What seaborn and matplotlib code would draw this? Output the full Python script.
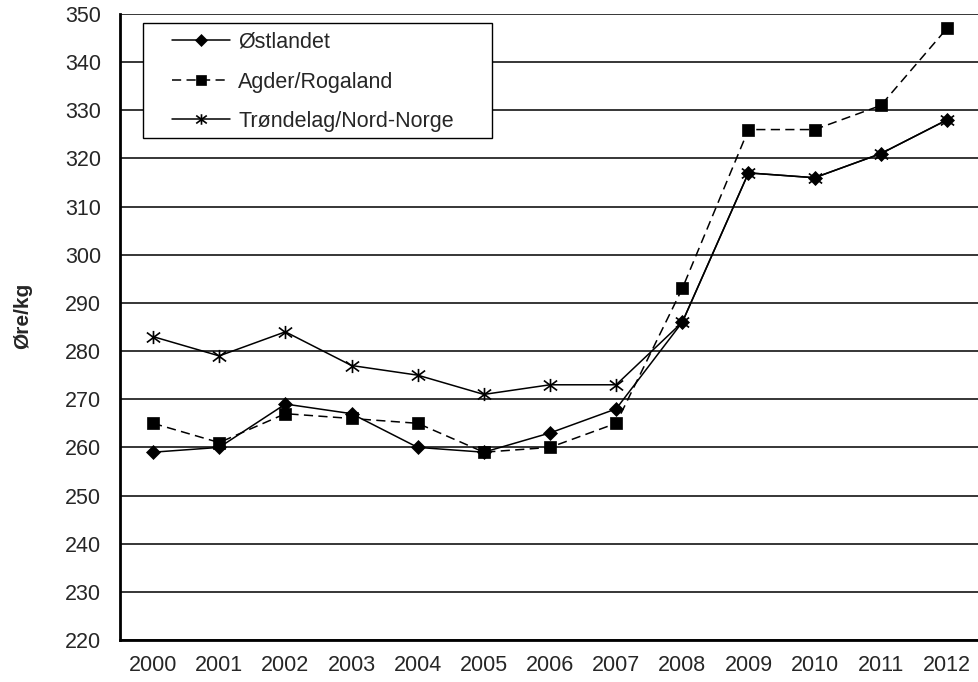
import numpy as np
import pandas as pd
import matplotlib
matplotlib.use("Agg")
import matplotlib.pyplot as plt
from matplotlib.patches import Rectangle
from matplotlib.path import Path
import seaborn as sns

years = [2000, 2001, 2002, 2003, 2004, 2005, 2006, 2007, 2008, 2009, 2010, 2011, 2012]
ostlandet = [259, 260, 269, 267, 260, 259, 263, 268, 286, 317, 316, 321, 328]
agder = [265, 261, 267, 266, 265, 259, 260, 265, 293, 326, 326, 331, 347]
trondelag = [283, 279, 284, 277, 275, 271, 273, 273, 286, 317, 316, 321, 328]
series_names = ["Østlandet", "Agder/Rogaland", "Trøndelag/Nord-Norge"]
y_ticks = list(range(220, 351, 10))
y_label = "Øre/kg"

sns.set_style("white")
plt.rcParams["font.family"] = ["Liberation Sans", "DejaVu Sans"]
FS = 15.5

df = pd.DataFrame({
    "year": years * 3,
    "value": ostlandet + agder + trondelag,
    "series": [series_names[0]] * len(years) + [series_names[1]] * len(years) + [series_names[2]] * len(years),
})

W, H = 979, 682
fig = plt.figure(figsize=(W / 100, H / 100), dpi=100)
ax = fig.add_axes([120 / W, 1 - 640 / H, 860 / W, 626 / H])

sns.lineplot(
    data=df, x="year", y="value", hue="series", style="series",
    hue_order=series_names, style_order=series_names,
    palette={n: "black" for n in series_names},
    markers={series_names[0]: "D", series_names[1]: "s", series_names[2]: "o"},
    dashes={series_names[0]: "", series_names[1]: (6, 3.5), series_names[2]: ""},
    linewidth=1.1, legend=False, ax=ax, clip_on=False,
)

star = Path([(0, -1), (0, 1), (-1, -0.75), (1, 0.75), (-1, 0.75), (1, -0.75)],
            [Path.MOVETO, Path.LINETO, Path.MOVETO, Path.LINETO, Path.MOVETO, Path.LINETO])

lines = ax.lines[:3]
lines[2].set_marker(star)
lines[0].set_markersize(7.5)
lines[1].set_markersize(8.8)
lines[2].set_markersize(9.5)
for ln in lines:
    ln.set_markerfacecolor("black")
    ln.set_markeredgecolor("black")
lines[2].set_markeredgewidth(1.2)
lines[0].set_markeredgewidth(0.5)
lines[1].set_markeredgewidth(0.5)

ax.set_xlim(years[0] - 0.5, years[-1] + 0.5)
ax.set_ylim(y_ticks[0], y_ticks[-1])
ax.set_yticks(y_ticks)
ax.set_yticklabels([str(t) for t in y_ticks])
ax.set_xticks(np.arange(years[0] - 0.5, years[-1] + 0.6, 1))
ax.set_xticklabels([])
ax.set_xticks(years, minor=True)
ax.set_xticklabels([str(y) for y in years], minor=True)
ax.tick_params(axis="x", which="major", length=4, width=1.3, direction="out", color="black")
ax.tick_params(axis="x", which="minor", length=0, pad=10.5, labelsize=FS)
ax.tick_params(axis="y", which="major", length=8.6, width=1.3, direction="inout", pad=9.4, labelsize=FS, color="black")

ax.grid(axis="y", color="black", linewidth=1.1)
ax.grid(axis="x", visible=False)
ax.set_axisbelow(True)
for s in ["top", "right"]:
    ax.spines[s].set_visible(False)
for s in ["left", "bottom"]:
    ax.spines[s].set_color("black")
    ax.spines[s].set_linewidth(2.0)

ax.set_xlabel("")
ax.set_ylabel(y_label, fontsize=15, fontweight="bold")
ax.yaxis.set_label_coords((32 - 120) / 860, (640 - 316) / 626)

# legend frame
ax.add_patch(Rectangle((143 / W, 1 - 138 / H), 349 / W, 115 / H, transform=fig.transFigure,
                       facecolor="white", edgecolor="black", linewidth=1.0, zorder=4, clip_on=False))
leg = ax.legend(handles=lines, labels=series_names, loc="upper left",
                bbox_to_anchor=(172 / W, 1 - 32 / H), bbox_transform=fig.transFigure,
                frameon=False, borderpad=0, borderaxespad=0, handlelength=2.7,
                handletextpad=0.37, labelspacing=0.86, fontsize=FS)
leg.set_zorder(5)
for h in leg.legend_handles:
    h.set_markersize(h.get_markersize() * 0.8)

fig.savefig("out.png", dpi=100)
